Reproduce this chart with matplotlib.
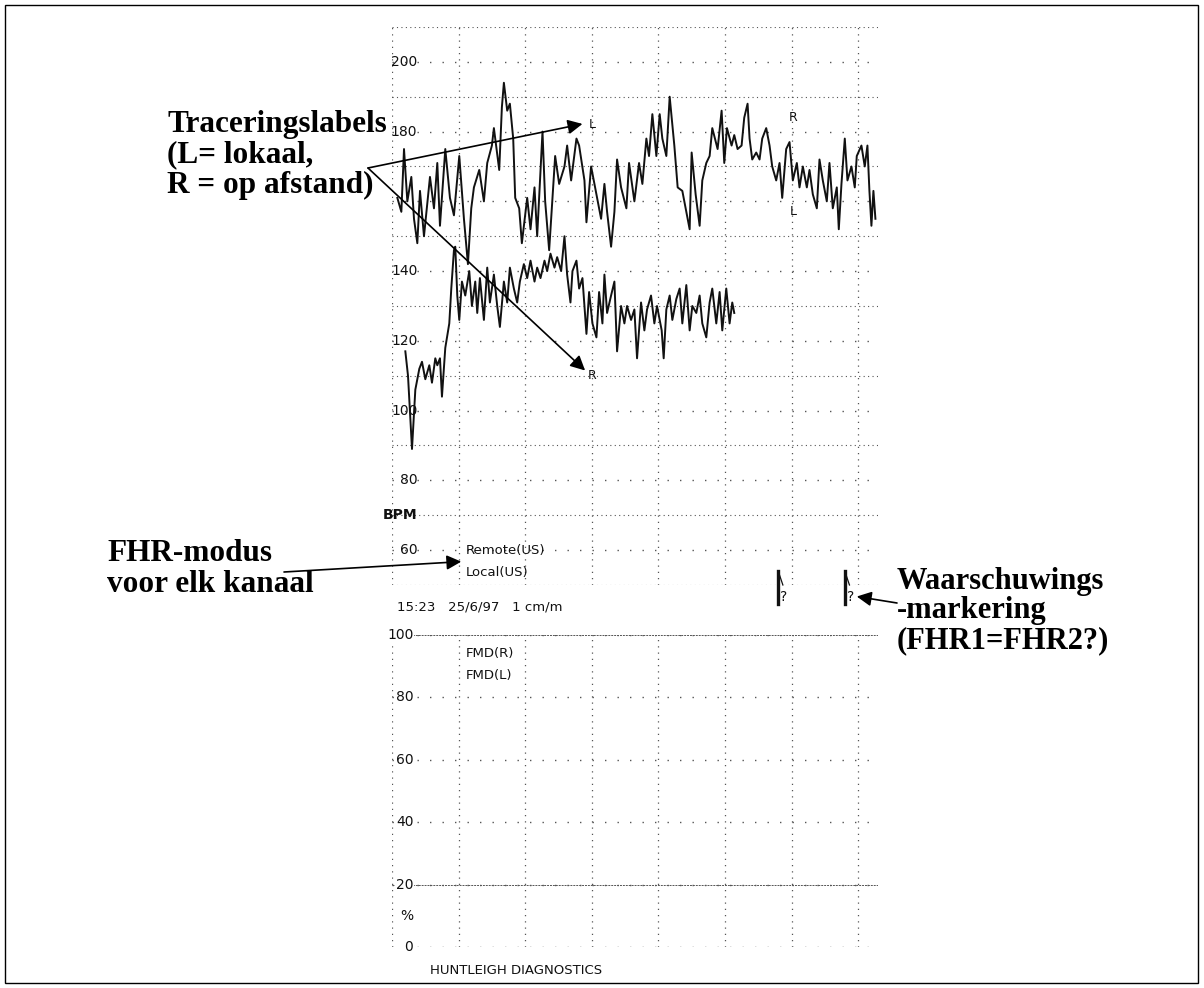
import matplotlib
matplotlib.use("Agg")
import matplotlib.pyplot as plt
from matplotlib.patches import Rectangle

# FHR trace, local channel (L): time in chart minutes, bpm
local_t = [0.08, 0.14, 0.18, 0.23, 0.29, 0.33, 0.38, 0.42, 0.48, 0.57, 0.63, 0.68,
           0.72, 0.80, 0.87, 0.93, 1.01, 1.08, 1.14, 1.19, 1.23, 1.31, 1.38, 1.43,
           1.50, 1.53, 1.61, 1.65, 1.68, 1.73, 1.77, 1.82, 1.85, 1.91, 1.95, 2.03,
           2.08, 2.14, 2.18, 2.26, 2.30, 2.36, 2.41, 2.45, 2.51, 2.59, 2.63, 2.69,
           2.77, 2.81, 2.89, 2.92, 2.99, 3.04, 3.14, 3.19, 3.23, 3.29, 3.34, 3.38,
           3.44, 3.52, 3.56, 3.64, 3.71, 3.76, 3.82, 3.86, 3.91, 3.97, 4.02, 4.06,
           4.12, 4.17, 4.24, 4.29, 4.36, 4.42, 4.47, 4.50, 4.56, 4.62, 4.66, 4.72,
           4.77, 4.81, 4.89, 4.95, 4.99, 5.03, 5.10, 5.14, 5.19, 5.25, 5.29, 5.34,
           5.37, 5.41, 5.47, 5.52, 5.56, 5.62, 5.67, 5.71, 5.77, 5.82, 5.86, 5.92,
           5.97, 6.02, 6.08, 6.12, 6.17, 6.23, 6.27, 6.32, 6.38, 6.42, 6.47, 6.53,
           6.57, 6.62, 6.68, 6.71, 6.75, 6.80, 6.84, 6.90, 6.95, 6.98, 7.05, 7.10,
           7.14, 7.17, 7.20, 7.23, 7.26]
local_bpm = [161, 157, 175, 160, 167, 155, 148, 163, 150, 167, 158, 171,
             153, 175, 161, 156, 173, 155, 142, 158, 164, 169, 160, 171,
             176, 181, 169, 187, 194, 186, 188, 178, 161, 158, 148, 161,
             152, 164, 150, 180, 160, 146, 161, 173, 165, 170, 176, 166,
             178, 176, 166, 154, 170, 165, 155, 165, 157, 147, 157, 172,
             164, 158, 171, 160, 171, 165, 178, 173, 185, 173, 185, 178,
             173, 190, 176, 164, 163, 157, 152, 174, 162, 153, 166, 171,
             173, 181, 175, 186, 171, 181, 176, 179, 175, 176, 184, 188,
             178, 172, 174, 172, 178, 181, 176, 170, 166, 171, 161, 175,
             177, 166, 171, 164, 170, 164, 169, 162, 158, 172, 166, 160,
             171, 158, 164, 152, 165, 178, 166, 170, 164, 173, 176, 170,
             176, 163, 153, 163, 155]

# FHR trace, remote channel (R)
remote_t = [0.20, 0.24, 0.30, 0.35, 0.41, 0.45, 0.50, 0.56, 0.60, 0.65, 0.68, 0.72,
            0.75, 0.80, 0.86, 0.89, 0.93, 0.95, 0.98, 1.01, 1.05, 1.10, 1.16, 1.20,
            1.25, 1.28, 1.32, 1.38, 1.43, 1.47, 1.53, 1.58, 1.62, 1.68, 1.73, 1.77,
            1.83, 1.88, 1.92, 1.98, 2.03, 2.08, 2.14, 2.18, 2.23, 2.29, 2.33, 2.38,
            2.44, 2.48, 2.54, 2.59, 2.63, 2.68, 2.71, 2.77, 2.81, 2.86, 2.92, 2.96,
            3.01, 3.07, 3.11, 3.16, 3.19, 3.23, 3.29, 3.34, 3.38, 3.44, 3.49, 3.53,
            3.59, 3.64, 3.68, 3.74, 3.79, 3.83, 3.89, 3.94, 3.98, 4.05, 4.08, 4.12,
            4.17, 4.21, 4.27, 4.32, 4.36, 4.42, 4.47, 4.51, 4.57, 4.62, 4.66, 4.72,
            4.77, 4.81, 4.87, 4.92, 4.96, 5.02, 5.07, 5.11, 5.14]
remote_bpm = [117, 110, 89, 106, 112, 114, 109, 113, 108, 115, 113, 115,
              104, 118, 125, 135, 146, 147, 133, 126, 137, 133, 140, 130,
              137, 128, 138, 126, 141, 131, 139, 130, 124, 137, 131, 141,
              135, 131, 137, 142, 138, 143, 137, 141, 138, 143, 140, 145,
              141, 144, 140, 150, 139, 131, 140, 143, 135, 138, 122, 134,
              125, 121, 134, 125, 139, 128, 133, 137, 117, 130, 125, 130,
              126, 129, 115, 131, 123, 129, 133, 125, 130, 123, 115, 129,
              133, 126, 132, 135, 125, 136, 123, 130, 128, 133, 125, 121,
              131, 135, 125, 134, 123, 135, 125, 131, 128]

fhr_ticks = [200, 180, 140, 120, 100, 80, 60]
fmd_ticks = [100, 80, 60, 40, 20, 0]
warn_times = [5.80, 6.80]

fig = plt.figure(figsize=(12.04, 9.88), dpi=100)
ink = "#111111"
grid_c = "#555555"

# top panel: FHR
ax = fig.add_axes([0.3256, 0.4079, 0.4037, 0.5648])
ax.set_xlim(0, 7.3)
ax.set_ylim(50, 210)
ax.set_yticks(range(60, 211, 20))
ax.set_yticks(range(50, 211, 20), minor=True)
ax.set_xticks(range(0, 8))
ax.grid(which="major", axis="y", color=grid_c, linestyle=(0, (1, 8)), lw=1)
ax.grid(which="minor", axis="y", color=grid_c, linestyle=(0, (1, 3)), lw=0.8)
ax.grid(which="major", axis="x", color=grid_c, linestyle=(0, (1, 4)), lw=0.9)
ax.tick_params(which="both", length=0, labelleft=False, labelbottom=False)
for s in ax.spines.values():
    s.set_visible(False)

ax.plot(local_t, local_bpm, color=ink, lw=1.4)
ax.plot(remote_t, remote_bpm, color=ink, lw=1.4)

for v in fhr_ticks:
    ax.text(0.38, v, str(v), ha="right", va="center", fontsize=10, color=ink)
ax.text(0.38, 70, "BPM", ha="right", va="center", fontsize=10, color=ink,
        fontweight="bold")
ax.text(1.11, 60, "Remote(US)", ha="left", va="center", fontsize=9.5, color=ink)
ax.text(1.11, 53.7, "Local(US)", ha="left", va="center", fontsize=9.5, color=ink)
ax.text(3.0, 182, "L", ha="center", va="center", fontsize=9, color=ink)
ax.text(3.0, 110, "R", ha="center", va="center", fontsize=9, color=ink)
ax.text(6.02, 184, "R", ha="center", va="center", fontsize=9, color=ink)
ax.text(6.02, 157, "L", ha="center", va="center", fontsize=9, color=ink)

# warning markers below the FHR panel
for wt in warn_times:
    ax.plot([wt, wt], [44.5, 54], color=ink, lw=2.4, clip_on=False)
    ax.plot([wt, wt + 0.07], [54, 50], color=ink, lw=0.9, clip_on=False)
    ax.text(wt + 0.03, 46.5, "?", ha="left", va="center", fontsize=10,
            color=ink, clip_on=False)

# bottom panel: FMD
bx = fig.add_axes([0.3256, 0.0415, 0.4037, 0.3158])
bx.set_xlim(0, 7.3)
bx.set_ylim(0, 100)
bx.set_yticks([0, 20, 40, 60, 80, 100])
bx.set_xticks(range(0, 8))
bx.grid(which="major", axis="y", color=grid_c, linestyle=(0, (1, 8)), lw=1)
bx.grid(which="major", axis="x", color=grid_c, linestyle=(0, (1, 4)), lw=0.9)
bx.axhline(20, color=grid_c, linestyle=(0, (2, 1)), lw=0.7)
bx.axhline(0, color=grid_c, linestyle=(0, (2, 1)), lw=0.7)
bx.axhline(100, color=grid_c, linestyle=(0, (2, 1)), lw=0.7)
bx.tick_params(which="both", length=0, labelleft=False, labelbottom=False)
for s in bx.spines.values():
    s.set_visible(False)
for v in fmd_ticks:
    bx.text(0.32, v, str(v), ha="right", va="center", fontsize=10, color=ink,
            bbox=dict(facecolor="white", edgecolor="none", pad=0.5))
bx.text(0.32, 10, "%", ha="right", va="center", fontsize=10, color=ink)
bx.text(1.11, 94, "FMD(R)", ha="left", va="center", fontsize=9.5, color=ink)
bx.text(1.11, 87, "FMD(L)", ha="left", va="center", fontsize=9.5, color=ink)

fig.text(397 / 1204, 1 - 607 / 988, "15:23   25/6/97   1 cm/m", ha="left",
         va="center", fontsize=9.5, color=ink)
fig.text(430 / 1204, 1 - 970 / 988, "HUNTLEIGH DIAGNOSTICS", ha="left",
         va="center", fontsize=9.5, color=ink)

# annotations
serif = ["Liberation Serif", "DejaVu Serif"]
fig.text(167 / 1204, 1 - 110 / 988, "Traceringslabels\n(L= lokaal,\nR = op afstand)",
         ha="left", va="top", fontsize=22.5, fontweight="bold", family=serif,
         linespacing=1.07)
fig.text(107 / 1204, 1 - 539 / 988, "FHR-modus\nvoor elk kanaal",
         ha="left", va="top", fontsize=22.5, fontweight="bold", family=serif,
         linespacing=1.07)
fig.text(897 / 1204, 1 - 567 / 988, "Waarschuwings\n-markering\n(FHR1=FHR2?)",
         ha="left", va="top", fontsize=22, fontweight="bold", family=serif,
         linespacing=1.02)

arrow = dict(arrowstyle="-|>", color="black", lw=1.2, mutation_scale=22,
             shrinkA=0, shrinkB=0)
ax.annotate("", xy=(2.86, 182.2), xytext=(368 / 1204, 1 - 168 / 988),
            textcoords="figure fraction", arrowprops=arrow)
ax.annotate("", xy=(2.90, 111.5), xytext=(368 / 1204, 1 - 168 / 988),
            textcoords="figure fraction", arrowprops=arrow)
ax.annotate("", xy=(1.04, 56.7), xytext=(284 / 1204, 1 - 572 / 988),
            textcoords="figure fraction", arrowprops=arrow,
            annotation_clip=False)
ax.annotate("", xy=(6.98, 46.7), xytext=(897 / 1204, 1 - 603 / 988),
            textcoords="figure fraction", arrowprops=arrow,
            annotation_clip=False)

fig.patches.append(Rectangle((5 / 1204, 5 / 988), 1193 / 1204, 978 / 988,
                             transform=fig.transFigure, fill=False,
                             edgecolor="black", lw=1))

fig.savefig("out.png", dpi=100)
